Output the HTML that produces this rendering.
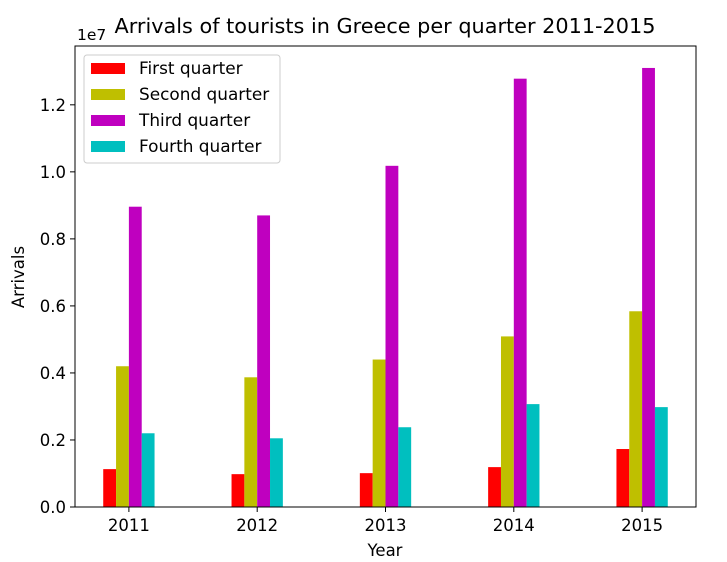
<!DOCTYPE html>
<html><head><meta charset="utf-8"><style>
html,body{margin:0;padding:0;background:#fff}
svg{display:block;font-family:"DejaVu Sans","Liberation Sans",sans-serif}
</style></head><body>
<svg id="chart" width="727" height="562" viewBox="0 0 727 562">
<g id="bars"></g>
<rect x="75" y="46" width="621" height="461" fill="none" stroke="#000" stroke-width="1"/>
<g id="xticks"></g>
<g id="yticks"></g>
<text x="77" y="40" font-size="15.5">1e7</text>
<text x="385" y="33" font-size="20.8" text-anchor="middle">Arrivals of tourists in Greece per quarter 2011-2015</text>
<text x="385" y="556" font-size="16.5" text-anchor="middle">Year</text>
<text x="24" y="277" font-size="16.5" text-anchor="middle" transform="rotate(-90 24 277)">Arrivals</text>
<g>
<rect x="84" y="55" width="196" height="108" rx="3" fill="#fff" fill-opacity="0.8" stroke="#ccc"/>
<g id="legend-items"></g>
</g>
</svg>
<script>
const years=[2011,2012,2013,2014,2015];
const q1=[1.13e6,0.98e6,1.01e6,1.19e6,1.73e6];
const q2=[4.2e6,3.87e6,4.4e6,5.09e6,5.84e6];
const q3=[8.96e6,8.7e6,10.18e6,12.78e6,13.1e6];
const q4=[2.2e6,2.05e6,2.38e6,3.07e6,2.98e6];
const seriesNames=["First quarter","Second quarter","Third quarter","Fourth quarter"];
const yTicks=[0,0.2e7,0.4e7,0.6e7,0.8e7,1.0e7,1.2e7];
const yTickLabels=["0.0","0.2","0.4","0.6","0.8","1.0","1.2"];
const NS="http://www.w3.org/2000/svg";
const colors=["#ff0000","#bfbf00","#bf00bf","#00bfbf"];
const series=[q1,q2,q3,q4];
const L=75,R=696,T=46,B=507;
const maxV=Math.max(...series.flat());
const ymax=maxV*1.05;
const xmin=years[0]-0.2-(years[years.length-1]-years[0]+0.4)*0.05;
const xmax=years[years.length-1]+0.2+(years[years.length-1]-years[0]+0.4)*0.05;
const xs=v=>L+(v-xmin)/(xmax-xmin)*(R-L);
const ys=v=>B-v/ymax*(B-T);
function mk(t,a,p){const e=document.createElementNS(NS,t);for(const k in a)e.setAttribute(k,a[k]);(p||document.getElementById('chart')).appendChild(e);return e;}
const gb=document.getElementById('bars');
series.forEach((s,si)=>{s.forEach((v,i)=>{
 const x0=xs(years[i]-0.2+0.1*si),x1=xs(years[i]-0.1+0.1*si);
 const r=mk('rect',{x:x0,y:ys(v),width:x1-x0,height:B-ys(v),fill:colors[si]},gb);
 
 
});});
const gx=document.getElementById('xticks');
years.forEach(y=>{
 const x=xs(y);
 const l=mk('line',{x1:x,x2:x,y1:B,y2:B+5,stroke:'#000'},gx);
 
 
 const t=mk('text',{x:x,y:B+24,'font-size':16.5,'text-anchor':'middle'},gx);t.textContent=y;
 
 
});
const gy=document.getElementById('yticks');
yTicks.forEach((v,i)=>{
 const y=ys(v);
 const l=mk('line',{x1:L-5,x2:L,y1:y,y2:y,stroke:'#000'},gy);
 
 
 const t=mk('text',{x:L-9,y:y+6,'font-size':16.5,'text-anchor':'end'},gy);t.textContent=yTickLabels[i];
 
 
});
const gl=document.getElementById('legend-items');
seriesNames.forEach((n,i)=>{
 const y=68+i*26;
 const r=mk('rect',{x:91,y:y-5,width:34,height:11,fill:colors[i]},gl);
 
 
 const t=mk('text',{x:139,y:y+6,'font-size':16.9},gl);t.textContent=n;
 
 
});
</script>
</body></html>
